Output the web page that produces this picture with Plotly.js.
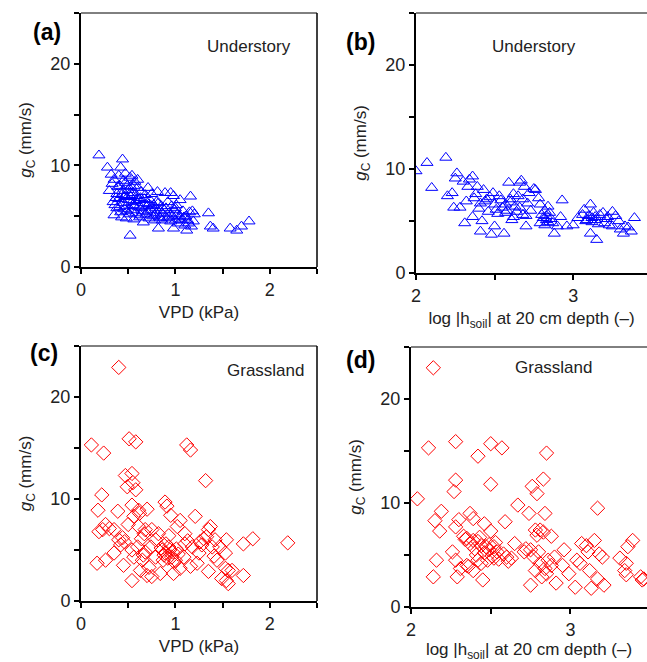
<!DOCTYPE html>
<html>
<head>
<meta charset="utf-8">
<script src="https://cdn.plot.ly/plotly-3.0.1.min.js"></script>
<style>html,body{margin:0;padding:0;background:#fff}#chart{width:647px;height:662px}</style>
</head>
<body>
<div id="chart"></div>
<script>
// Panel (a): Understory, VPD vs gc
const vpdA = [0.19,0.28,0.32,0.30,0.33,0.35,0.36,0.35,0.38,0.38,0.40,0.40,0.41,0.42,0.42,0.43,0.44,0.44,0.45,0.45,0.46,0.47,0.47,0.48,0.48,0.49,0.50,0.50,0.51,0.52,0.52,0.53,0.53,0.54,0.55,0.55,0.56,0.57,0.58,0.58,0.60,0.60,0.61,0.62,0.63,0.64,0.65,0.66,0.66,0.68,0.69,0.70,0.71,0.72,0.73,0.74,0.75,0.76,0.77,0.78,0.79,0.80,0.81,0.82,0.82,0.83,0.84,0.85,0.86,0.87,0.89,0.90,0.91,0.92,0.93,0.95,0.95,0.96,0.97,0.98,0.98,0.99,1.00,1.01,1.02,1.03,1.05,1.05,1.07,1.08,1.10,1.11,1.12,1.13,1.14,1.15,1.16,1.17,1.18,1.19,1.35,1.37,1.40,1.58,1.65,1.70,1.78,
  0.37,0.39,0.43,0.46,0.49,0.51,0.54,0.56,0.59,0.62,0.64,0.67,0.70,0.72,0.75,0.78,0.80,0.84,0.88,0.93,1.00,1.04,1.09,1.20,0.34,0.41,0.47,0.53,0.57,0.63];
const gcA = [11.0,9.8,9.1,7.5,8.2,8.6,6.1,5.1,7.2,5.8,9.0,6.7,8.0,9.8,5.4,4.9,10.6,7.5,6.3,8.5,5.7,7.0,9.2,4.8,6.0,8.0,6.6,7.6,5.2,8.8,3.1,6.9,5.6,9.0,7.3,6.1,4.7,8.4,6.5,5.3,7.8,8.6,5.9,4.9,6.8,7.4,5.5,4.4,6.3,7.1,5.2,6.0,7.8,4.8,6.6,5.6,7.2,5.0,6.1,4.6,5.8,5.3,7.4,3.8,6.3,4.9,5.5,6.0,4.6,5.2,7.3,5.8,4.8,6.4,5.3,7.3,4.5,6.0,5.0,7.0,3.8,5.6,4.6,6.1,5.2,4.3,6.6,5.0,4.6,5.5,4.1,5.0,3.6,4.6,4.3,5.4,6.95,4.0,5.5,4.5,5.3,4.0,3.8,3.8,3.6,4.0,4.5,
  6.8,7.9,7.1,6.9,5.5,7.1,6.4,8.0,7.0,6.6,5.8,6.7,5.4,6.2,6.0,5.1,6.4,4.8,5.6,4.9,5.8,4.7,4.9,5.2,6.4,5.9,8.3,7.9,6.0,5.1];

// Panel (b): Understory, log|h_soil| vs gc
const hB = [2.00,2.07,2.10,2.19,2.20,2.23,2.26,2.25,2.24,2.28,2.30,2.31,2.32,2.34,2.36,2.36,2.39,2.41,2.42,2.43,2.41,2.45,2.48,2.49,2.50,2.51,2.53,2.56,2.57,2.59,2.60,2.61,2.63,2.65,2.66,2.67,2.68,2.69,2.70,2.71,2.72,2.75,2.76,2.78,2.79,2.80,2.83,2.84,2.85,2.87,2.88,2.90,2.93,2.92,2.96,3.00,3.03,3.06,3.07,3.11,3.11,3.09,3.14,3.15,3.17,3.19,3.20,3.22,3.25,3.25,3.29,3.30,3.32,3.33,3.37,3.39,
  2.38,2.40,2.44,2.46,2.47,2.50,2.52,2.54,2.55,2.58,2.60,2.62,2.64,2.66,2.68,2.70,2.73,2.79,2.81,2.82,2.82,2.83,2.84,2.86,3.08,3.10,3.12,3.12,3.13,3.14,3.16,3.21,3.23,3.27,3.35,2.33,2.37,2.57,2.62];
const gcB = [9.8,10.6,8.2,11.1,7.4,7.7,9.6,9.1,6.3,6.3,8.8,4.8,6.9,9.0,9.3,5.4,8.3,4.0,5.0,8.0,6.7,7.1,3.7,7.7,4.5,6.1,7.4,3.8,5.8,8.7,7.1,5.1,6.4,7.4,8.7,8.9,5.6,8.3,4.5,6.7,7.7,8.1,8.0,7.2,6.6,5.6,5.1,6.4,5.8,4.8,3.8,4.5,7.0,5.4,4.5,4.6,5.3,5.6,6.1,6.6,3.8,5.1,5.4,3.2,5.6,5.8,4.8,5.4,5.9,4.5,5.0,4.2,3.8,4.5,4.0,5.3,
  7.6,6.2,6.9,5.9,7.3,6.6,5.7,7.0,6.3,6.0,6.8,7.6,5.9,6.3,7.1,5.5,6.0,4.8,5.3,4.6,6.0,5.5,4.9,5.2,5.0,5.5,4.9,5.3,5.8,5.1,4.7,5.2,4.6,5.5,4.4,8.3,7.2,6.6,5.4];

// Panel (c): Grassland, VPD vs gc
const vpdC = [0.40,0.11,0.24,0.51,0.58,1.12,1.16,1.32,0.47,0.54,0.49,0.55,0.58,0.22,0.18,0.39,0.54,0.61,0.70,0.89,0.91,0.95,1.05,1.21,1.02,0.26,0.23,0.30,0.35,0.19,0.50,0.61,0.68,0.75,0.82,0.40,0.46,0.42,0.35,0.45,0.17,0.26,0.54,0.60,0.65,0.63,0.70,0.54,0.75,0.84,0.79,0.86,0.89,0.93,0.96,1.00,0.98,1.05,1.09,1.10,1.16,1.18,1.23,1.25,1.26,1.30,1.33,1.35,1.37,1.39,1.42,1.35,1.44,1.47,1.53,1.54,1.53,1.56,1.49,1.54,1.56,1.60,1.72,1.72,1.82,2.19,0.79,0.74,0.68,1.10,
  0.85,0.88,0.90,0.92,0.94,0.97,0.99,1.01,0.87,0.93,1.03,0.64,0.66,0.72,0.56,0.62,0.67,0.44,0.56,1.13,1.28,1.41];
const gcC = [22.9,15.3,14.5,15.9,15.6,15.3,14.8,11.8,12.3,12.5,11.2,11.6,10.9,10.4,8.9,8.8,9.4,8.9,9.0,9.7,9.3,8.4,7.9,8.3,7.3,7.5,7.0,7.1,7.0,6.8,7.5,7.3,7.0,7.0,6.6,6.0,5.8,5.5,4.7,3.5,3.7,4.0,5.0,5.3,4.0,3.0,2.5,2.0,2.4,2.7,4.3,5.0,4.7,5.3,4.3,4.0,2.7,3.2,4.3,5.6,3.4,5.3,3.7,4.7,5.8,6.1,6.3,7.0,7.3,5.3,6.0,2.9,4.0,5.3,4.7,6.0,3.2,3.0,2.2,2.0,1.7,3.0,2.5,5.6,6.1,5.7,6.0,5.3,4.8,6.6,
  5.2,4.5,5.6,4.2,5.0,4.8,3.8,5.1,4.0,6.4,4.6,6.1,4.5,3.3,8.3,8.6,6.6,6.2,4.3,5.9,5.5,4.4];

// Panel (d): Grassland, log|h_soil| vs gc
const hD = [2.14,2.04,2.11,2.28,2.50,2.57,2.42,2.85,2.28,2.27,2.50,2.76,2.83,2.79,2.67,2.74,2.84,3.17,2.19,2.15,2.18,2.37,2.39,2.30,2.28,2.46,2.59,2.50,2.78,2.81,2.83,2.88,2.33,2.35,2.39,2.42,2.44,2.47,2.49,2.52,2.54,2.58,2.60,2.63,2.65,2.52,2.48,2.44,2.42,2.35,2.31,2.39,2.29,2.45,2.26,2.28,2.16,2.14,2.71,2.75,2.77,2.80,2.81,2.78,2.75,2.82,2.85,2.86,2.88,2.91,2.90,2.96,2.95,2.99,3.03,3.04,3.06,3.07,3.10,3.11,3.12,3.13,3.15,3.17,3.18,3.20,3.21,3.31,3.34,3.35,3.36,3.39,3.35,3.44,3.45,3.46,
  2.34,2.37,2.40,2.43,2.46,2.49,2.51,2.55,2.61,2.36,2.41,2.53,2.72,2.79,2.84];
const gcD = [23.0,10.4,15.3,15.9,15.7,15.3,14.5,14.8,12.2,11.1,11.8,11.6,12.3,10.9,9.8,9.0,9.0,9.5,9.2,8.3,7.3,9.0,8.5,8.4,7.7,8.0,8.2,7.3,7.4,7.4,7.2,6.8,6.8,6.6,6.4,6.3,5.9,5.8,5.5,5.8,5.3,5.1,4.8,4.7,6.1,4.7,4.5,4.2,4.5,4.0,3.7,3.5,2.9,2.6,5.3,4.5,4.5,2.9,5.3,5.5,4.8,5.3,4.2,3.5,2.1,2.9,3.2,4.5,4.0,2.3,4.8,5.5,4.0,3.2,1.9,4.5,4.2,6.1,5.9,5.3,3.5,1.8,6.4,2.7,5.1,4.8,2.1,4.7,3.5,4.2,5.8,6.4,3.1,2.9,2.6,2.7,
  6.5,6.1,5.6,6.7,5.2,6.0,4.9,4.6,4.4,3.9,5.0,6.2,5.6,6.9,3.7];

const W = 647, H = 662;
const FONT = 'Liberation Sans, Arial, sans-serif';

function px2x(a,b){return [a/W, b/W];}
function px2y(top,bot){return [1-bot/H, 1-top/H];}

const blue = '#0000ff', red = '#ff0000';
const traces = [
  {x: vpdA, y: gcA, xaxis:'x', yaxis:'y', type:'scatter', mode:'markers',
   marker:{symbol:'triangle-up-open', size:10.5, color:blue, line:{width:1, color:blue}}},
  {x: hB, y: gcB, xaxis:'x2', yaxis:'y2', type:'scatter', mode:'markers',
   marker:{symbol:'triangle-up-open', size:10.5, color:blue, line:{width:1, color:blue}}},
  {x: vpdC, y: gcC, xaxis:'x3', yaxis:'y3', type:'scatter', mode:'markers',
   marker:{symbol:'diamond-open', size:11, color:red, line:{width:1, color:red}}},
  {x: hD, y: gcD, xaxis:'x4', yaxis:'y4', type:'scatter', mode:'markers',
   marker:{symbol:'diamond-open', size:11, color:red, line:{width:1, color:red}}}
];

function xax(dom, range, tick0, title, anchor){
  return {domain: dom, range: range, anchor: anchor, tickmode:'linear', tick0: tick0, dtick: 1,
    ticks:'outside', ticklen:5, tickwidth:2, tickcolor:'#000', showline:true, linewidth:2, linecolor:'#000',
    minor:{tickmode:'linear', tick0: tick0, dtick:0.5, ticks:'outside', ticklen:5, tickwidth:2, tickcolor:'#000', showgrid:false},
    showgrid:false, zeroline:false, tickfont:{family:FONT, size:18, color:'#222'},
    title:{text:title, font:{family:FONT, size:17, color:'#222'}, standoff:8}};
}
function yax(dom, anchor){
  return {domain: dom, range:[0,25], anchor: anchor, tickmode:'linear', tick0:0, dtick:10,
    ticks:'outside', ticklen:5, tickwidth:2, tickcolor:'#000', showline:true, linewidth:2, linecolor:'#000',
    minor:{tickmode:'linear', tick0:0, dtick:5, ticks:'outside', ticklen:5, tickwidth:2, tickcolor:'#000', showgrid:false},
    showgrid:false, zeroline:false, tickfont:{family:FONT, size:18, color:'#222'},
    title:{text:'<i>g</i><sub>C</sub> (mm/s)', font:{family:FONT, size:17, color:'#222'}, standoff:14}};
}

const hTitle = 'log |h<sub>soil</sub>| at 20 cm depth (–)';
const layout = {
  width: W, height: H, margin:{l:0,r:0,t:0,b:0}, showlegend:false,
  paper_bgcolor:'#fff', plot_bgcolor:'#fff',
  xaxis:  xax(px2x(81,317), [0,2.5], 0, 'VPD (kPa)', 'y'),
  yaxis:  yax(px2y(13,267), 'x'),
  xaxis2: xax(px2x(416,647), [2,3.47], 2, hTitle, 'y2'),
  yaxis2: yax(px2y(13,273), 'x2'),
  xaxis3: xax(px2x(81,317), [0,2.5], 0, 'VPD (kPa)', 'y3'),
  yaxis3: yax(px2y(346,601), 'x3'),
  xaxis4: xax(px2x(411,647), [2,3.48], 2, hTitle, 'y4'),
  yaxis4: yax(px2y(347,607), 'x4'),
  shapes: [
    {type:'line', xref:'x domain', yref:'y domain', x0:0, x1:1, y0:1, y1:1, line:{color:'#000', width:1}},
    {type:'line', xref:'x domain', yref:'y domain', x0:1, x1:1, y0:0, y1:1, line:{color:'#000', width:1.5}},
    {type:'line', xref:'x2 domain', yref:'y2 domain', x0:0, x1:1, y0:1, y1:1, line:{color:'#000', width:1}},
    {type:'line', xref:'x3 domain', yref:'y3 domain', x0:0, x1:1, y0:1, y1:1, line:{color:'#000', width:1}},
    {type:'line', xref:'x3 domain', yref:'y3 domain', x0:1, x1:1, y0:0, y1:1, line:{color:'#000', width:1.5}},
    {type:'line', xref:'x4 domain', yref:'y4 domain', x0:0, x1:1, y0:1, y1:1, line:{color:'#000', width:1}}
  ],
  annotations: [
    {text:'<b>(a)</b>', x:31/W, y:1-17/H, xref:'paper', yref:'paper', showarrow:false, font:{family:FONT, size:23, color:'#000'}},
    {text:'<b>(b)</b>', x:360/W, y:1-27/H, xref:'paper', yref:'paper', showarrow:false, font:{family:FONT, size:23, color:'#000'}},
    {text:'<b>(c)</b>', x:28/W, y:1-353/H, xref:'paper', yref:'paper', showarrow:false, font:{family:FONT, size:23, color:'#000'}},
    {text:'<b>(d)</b>', x:360/W, y:1-360/H, xref:'paper', yref:'paper', showarrow:false, font:{family:FONT, size:23, color:'#000'}},
    {text:'Understory', x:249/W, y:1-35/H, xref:'paper', yref:'paper', showarrow:false, font:{family:FONT, size:17, color:'#222'}},
    {text:'Understory', x:578/W, y:1-35/H, xref:'paper', yref:'paper', showarrow:false, font:{family:FONT, size:17, color:'#222'}},
    {text:'Grassland', x:265/W, y:1-370/H, xref:'paper', yref:'paper', showarrow:false, font:{family:FONT, size:17, color:'#222'}},
    {text:'Grassland', x:594/W, y:1-367/H, xref:'paper', yref:'paper', showarrow:false, font:{family:FONT, size:17, color:'#222'}}
  ]
};

Plotly.newPlot('chart', traces, layout, {staticPlot:true, displayModeBar:false});
</script>
</body>
</html>
